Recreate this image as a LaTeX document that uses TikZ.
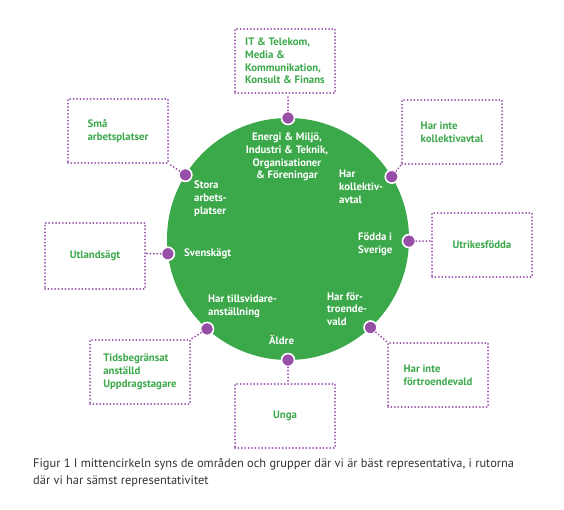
\documentclass[tikz,border=0pt]{standalone}
\usepackage{fontspec}
\setmainfont{PT Sans}
\usetikzlibrary{positioning}

\definecolor{gron}{RGB}{59,168,74}
\definecolor{lila}{RGB}{150,78,166}
\definecolor{bildtext}{RGB}{51,51,51}

\begin{document}
\begin{tikzpicture}[x=1pt,y=-1pt]
\useasboundingbox (0,0) rectangle (564,510);
% mittencirkeln
\node[circle,fill=gron,minimum size=242pt,inner sep=0pt,outer sep=0pt] (cirkel) at (288,239) {};
\begin{scope}[every node/.style={white,font=\bfseries\fontsize{10.8}{12.8}\selectfont,
                                 align=left,anchor=west,inner sep=0pt}]
    \node[anchor=center,align=center] (tBransch) at (287,157)
        {Energi \& Miljö,\\Industri \& Teknik,\\Organisationer\\\& Föreningar};
    \node (tStora) at (194,199) {Stora\\arbets-\\platser};
    \node (tSvensk) at (184,254) {Svenskägt};
    \node (tKollektiv) at (339,187) {Har\\kollektiv-\\avtal};
    \node (tFodda) at (358,244) {Födda i\\Sverige};
    \node (tTillsvidare) at (208,306) {Har tillsvidare-\\anställning};
    \node (tAldre) at (269,340) {Äldre};
    \node (tFortroende) at (327,309) {Har för-\\troende-\\vald};
\end{scope}
% rutorna
\begin{scope}[every node/.style={rectangle,draw=lila,line width=2pt,line cap=round,
                                 dash pattern=on 0pt off 3.4pt,minimum width=100pt,
                                 minimum height=64pt,text=gron,align=left,
                                 font=\bfseries\fontsize{10.8}{12.8}\selectfont}]
    \node (bIT) at (285,61) {IT \& Telekom,\\Media \&\\Kommunikation,\\Konsult \& Finans};
    \node (bSma) at (118,131) {Små\\arbetsplatser};
    \node[minimum height=66pt] (bUtland) at (95,256) {Utlandsägt};
    \node (bKollektiv) at (452,132) {Har inte\\kollektivavtal};
    \node (bUtrikes) at (482,245) {Utrikesfödda};
    \node (bTids) at (140,372) {Tidsbegränsat\\anställd\\Uppdragstagare};
    \node (bUnga) at (285,416) {Unga};
    \node (bFortroende) at (438,375) {Har inte\\förtroendevald};
\end{scope}
% punkterna på cirkeln
\begin{scope}[every node/.style={circle,fill=lila,draw=white,line width=1.6pt,
                                 minimum size=13pt,inner sep=0pt}]
    \node (dTopp) at (cirkel.90) {};
    \node (dStora) at (cirkel.148) {};
    \node (dSvensk) at (cirkel.187) {};
    \node (dKollektiv) at (cirkel.31) {};
    \node (dFodda) at (cirkel.-1) {};
    \node (dFortroende) at (cirkel.-47) {};
    \node (dAldre) at (cirkel.-90) {};
    \node (dTillsvidare) at (cirkel.-132) {};
\end{scope}
\begin{scope}[every edge/.style={draw=lila,line width=2pt,line cap=round,
                                 dash pattern=on 0pt off 3.4pt}]
    \path (dTopp) edge (dTopp |- bIT.south);
    \path (dStora) edge (bSma.south east);
    \path (dSvensk) edge (dSvensk -| bUtland.east);
    \path (dKollektiv) edge (bKollektiv.south west);
    \path (dFodda) edge (dFodda -| bUtrikes.west);
    \path (dFortroende) edge (bFortroende.north west);
    \path (dAldre) edge (dAldre |- bUnga.north);
    \path (dTillsvidare) edge (bTids.north east);
\end{scope}
% bildtext
\node[anchor=north west,align=left,inner sep=0pt,text=bildtext,
      font=\fontsize{12.4}{17}\selectfont] (bildtext) at (33,458)
    {Figur 1 I mittencirkeln syns de områden och grupper där vi är bäst representativa, i rutorna\\
     där vi har sämst representativitet};
\end{tikzpicture}
\end{document}
